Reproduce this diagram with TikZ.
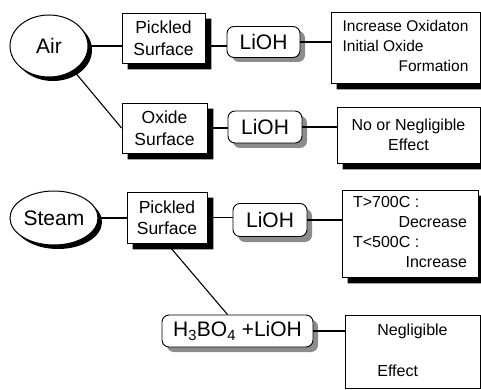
\documentclass[tikz,border=0pt]{standalone}
\usepackage{fontspec}
\setmainfont{Liberation Sans}
\usetikzlibrary{shapes.geometric,calc}
\begin{document}
\begin{tikzpicture}[x=1pt,y=-1pt]
\tikzset{
  linkline/.style={line width=1.1pt},
  ovalbox/.style={ellipse, draw, line width=1pt, fill=white, inner sep=0pt,
    font=\fontsize{21}{24}\selectfont},
  surfbox/.style={rectangle, draw, line width=0.9pt, fill=white, align=center, inner sep=0pt,
    font=\fontsize{17.5}{21.5}\selectfont},
  chembox/.style={rectangle, rounded corners=7pt, draw, line width=0.9pt, fill=white, inner sep=0pt,
    font=\fontsize{21}{24}\selectfont},
  resbox/.style={rectangle, draw, line width=0.9pt, fill=white, inner sep=0pt,
    font=\fontsize{16}{20}\selectfont},
  hardshadow/.style={fill=black},
  softshadow/.style={fill=black!45, rounded corners=7pt}
}
\useasboundingbox (0,0) rectangle (481,390);

% shadows of the ovals and rounded boxes, drawn first so that the shapes cover them
\fill[hardshadow] (53,50) ellipse [x radius=39, y radius=31];
\fill[hardshadow] (58,222) ellipse [x radius=44, y radius=27];
\fill[softshadow] (232,31) rectangle (305,62);
\fill[softshadow] (233,116) rectangle (307,148);
\fill[softshadow] (238,209) rectangle (312,242);
\fill[softshadow] (167,320) rectangle (318,352);

% column 1
\node[ovalbox, minimum width=78pt, minimum height=62pt] (air) at (49,46) {Air};
\node[ovalbox, minimum width=88pt, minimum height=54pt] (steam) at (54,218) {Steam};

% column 2
\node[surfbox, minimum width=83pt, minimum height=50pt] (pick1) at (163.5,38)
  {Pickled\\Surface};
\node[surfbox, minimum width=85pt, minimum height=50pt] (oxide) at (164.5,128)
  {Oxide\\Surface};
\node[surfbox, minimum width=80pt, minimum height=51pt] (pick2) at (167,217.5)
  {Pickled\\Surface};

% column 3
\node[chembox, minimum width=73pt, minimum height=31pt] (lioh1) at (263.5,42) {LiOH};
\node[chembox, minimum width=74pt, minimum height=32pt] (lioh2) at (265,127) {LiOH};
\node[chembox, minimum width=74pt, minimum height=33pt] (lioh3) at (270,220) {LiOH};
\node[chembox, minimum width=151pt, minimum height=32pt] (h3bo) at (237.5,331)
  {H\textsubscript{3}BO\textsubscript{4} +LiOH};

% results
\node[resbox, font=\fontsize{15.5}{20}\selectfont,
  minimum width=149pt, minimum height=71pt] (res1) at (405.5,47.5)
  {\begin{tabular}{@{}l@{}}Increase Oxidaton\\Initial Oxide\\\hfill Formation\end{tabular}};
\node[resbox, align=center,
  minimum width=143pt, minimum height=56pt] (res2) at (408.5,135)
  {No or Negligible\\Effect};
\node[resbox,
  minimum width=136pt, minimum height=87pt] (res3) at (410,233.5)
  {\begin{tabular}{@{}p{114pt}@{}}T>700C :\\\hfill Decrease\\T<500C :\\\hfill Increase\end{tabular}};
\node[resbox,
  minimum width=135pt, minimum height=73pt] (res4) at (412.5,351.5)
  {\begin{tabular}{@{}l@{}}Negligible\\[21pt]Effect\end{tabular}};

% L-shaped black shadows of the square boxes, drawn after them
\foreach \n in {pick1,oxide,pick2,res1,res2,res3}
  \fill[hardshadow] ($(\n.south west)+(6,0)$) -- ($(\n.south west)+(6,6)$)
    -- ($(\n.south east)+(6,6)$) -- ($(\n.north east)+(6,6)$)
    -- ($(\n.north east)+(0,6)$) -- (\n.south east) -- cycle;

% connectors
\draw[linkline] (air.east) -- (air.east -| pick1.west);
\draw[linkline] (pick1.east |- air.east) -- (lioh1.west |- air.east);
\draw[linkline] (lioh1.east) -- (lioh1.east -| res1.west);
\draw[linkline] (air.-45) -- (oxide.west);
\draw[linkline] (oxide.east) -- (oxide.east -| lioh2.west);
\draw[linkline] (lioh2.east) -- (lioh2.east -| res2.west);
\draw[linkline] (steam.east) -- (steam.east -| pick2.west);
\draw[linkline] (pick2.east) -- (pick2.east -| lioh3.west);
\draw[linkline] (lioh3.east) -- (lioh3.east -| res3.west);
\draw[linkline] (pick2.south) -- ($(h3bo.north)+(-10,0)$);
\draw[linkline] (h3bo.east) -- (h3bo.east -| res4.west);
\end{tikzpicture}
\end{document}
